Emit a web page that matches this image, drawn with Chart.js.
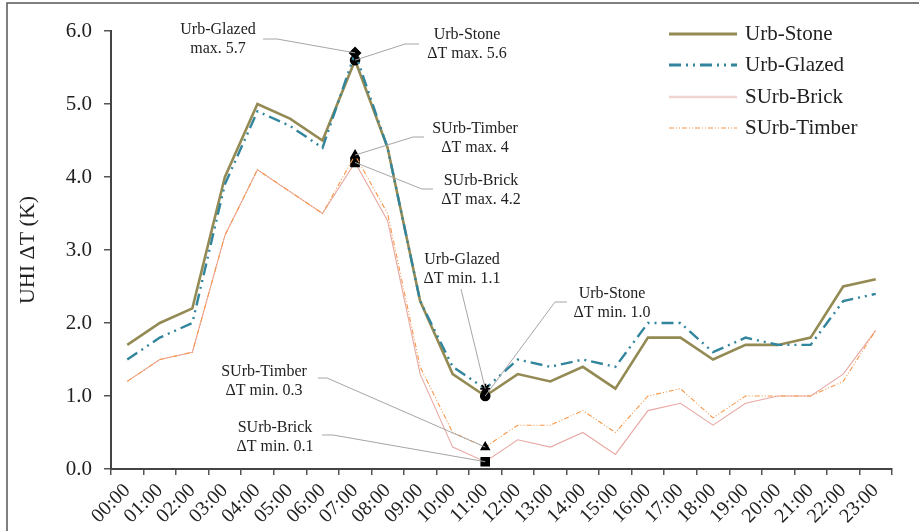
<!DOCTYPE html>
<html>
<head>
<meta charset="utf-8">
<script src="https://cdn.jsdelivr.net/npm/chart.js@4"></script>
<style>
  html, body { margin: 0; padding: 0; background: #fff; }
  #wrap { width: 919px; height: 531px; }
</style>
</head>
<body>
<div id="wrap"><canvas id="c" width="919" height="531"></canvas></div>
<script>
const hours = ["00:00", "01:00", "02:00", "03:00", "04:00", "05:00", "06:00", "07:00",
  "08:00", "09:00", "10:00", "11:00", "12:00", "13:00", "14:00", "15:00",
  "16:00", "17:00", "18:00", "19:00", "20:00", "21:00", "22:00", "23:00"];

const urbStone = [1.7, 2.0, 2.2, 4.0, 5.0, 4.8, 4.5, 5.6, 4.4, 2.3, 1.3, 1.0,
  1.3, 1.2, 1.4, 1.1, 1.8, 1.8, 1.5, 1.7, 1.7, 1.8, 2.5, 2.6];
const urbGlazed = [1.5, 1.8, 2.0, 3.9, 4.9, 4.7, 4.4, 5.7, 4.4, 2.3, 1.4, 1.1,
  1.5, 1.4, 1.5, 1.4, 2.0, 2.0, 1.6, 1.8, 1.7, 1.7, 2.3, 2.4];
const surbBrick = [1.2, 1.5, 1.6, 3.2, 4.1, 3.8, 3.5, 4.2, 3.4, 1.3, 0.3, 0.1,
  0.4, 0.3, 0.5, 0.2, 0.8, 0.9, 0.6, 0.9, 1.0, 1.0, 1.3, 1.9];
const surbTimber = [1.2, 1.5, 1.6, 3.2, 4.1, 3.8, 3.5, 4.3, 3.5, 1.4, 0.5, 0.3,
  0.6, 0.6, 0.8, 0.5, 1.0, 1.1, 0.7, 1.0, 1.0, 1.0, 1.2, 1.9];

const yTicks = [0, 1, 2, 3, 4, 5, 6];
const maxIdx = 7, minIdx = 11;

const serif = "'Liberation Serif', 'Times New Roman', serif";

// marker only at the max and min hours
const markRadius = (r) => hours.map((_, i) => (i === maxIdx || i === minIdx ? r : 0));

// dataset index, point index, text lines, label centre, leader start, elbow
const notes = [
  { ds: 1, i: maxIdx, text: ["Urb-Glazed", "max. 5.7"], cx: 218, cy: 30, from: [263, 39], elbow: [277, 39] },
  { ds: 0, i: maxIdx, text: ["Urb-Stone", "\u0394T max. 5.6"], cx: 467, cy: 35, from: [419, 44], elbow: [405, 44] },
  { ds: 3, i: maxIdx, text: ["SUrb-Timber", "\u0394T max. 4"], cx: 475, cy: 129, from: [424, 137], elbow: [413, 137] },
  { ds: 2, i: maxIdx, text: ["SUrb-Brick", "\u0394T max. 4.2"], cx: 481, cy: 181, from: [433, 189], elbow: [422, 189] },
  { ds: 1, i: minIdx, text: ["Urb-Glazed", "\u0394T min. 1.1"], cx: 462, cy: 260, from: [461, 289], elbow: [461, 289] },
  { ds: 0, i: minIdx, text: ["Urb-Stone", "\u0394T min. 1.0"], cx: 612, cy: 294, from: [567, 302], elbow: [555, 302] },
  { ds: 3, i: minIdx, text: ["SUrb-Timber", "\u0394T min. 0.3"], cx: 264, cy: 372, from: [318, 378], elbow: [327, 378] },
  { ds: 2, i: minIdx, text: ["SUrb-Brick", "\u0394T min. 0.1"], cx: 275, cy: 428, from: [322, 435], elbow: [333, 435] },
];

const frame = {
  id: "frame",
  beforeDraw(chart) {
    const ctx = chart.ctx;
    ctx.save();
    ctx.fillStyle = "#fff";
    ctx.fillRect(0, 0, chart.width, chart.height);
    ctx.strokeStyle = "#555";
    ctx.lineWidth = 1.5;
    ctx.strokeRect(7, 3, chart.width + 10, chart.height + 10);
    ctx.restore();
  },
};

const callouts = {
  id: "callouts",
  afterDatasetsDraw(chart) {
    const ctx = chart.ctx;
    ctx.save();
    ctx.strokeStyle = "#a6a6a6";
    ctx.lineWidth = 1;
    notes.forEach((n) => {
      const pt = chart.getDatasetMeta(n.ds).data[n.i];
      ctx.beginPath();
      ctx.moveTo(n.from[0], n.from[1]);
      ctx.lineTo(n.elbow[0], n.elbow[1]);
      ctx.lineTo(pt.x, pt.y);
      ctx.stroke();
    });
    ctx.fillStyle = "#222";
    ctx.font = "16px " + serif;
    ctx.textAlign = "center";
    ctx.textBaseline = "middle";
    notes.forEach((n) => {
      n.text.forEach((t, k) => ctx.fillText(t, n.cx, n.cy + k * 19));
    });
    ctx.restore();
  },
};

const legendBox = {
  id: "legendBox",
  afterDraw(chart) {
    const ctx = chart.ctx;
    const rows = [34, 65, 97, 128];
    ctx.save();
    chart.data.datasets.forEach((d, k) => {
      const y = rows[k];
      ctx.beginPath();
      ctx.strokeStyle = d.legendColor || d.borderColor;
      ctx.lineWidth = d.legendWidth;
      ctx.setLineDash(d.borderDash || []);
      ctx.moveTo(669, y);
      ctx.lineTo(737, y);
      ctx.stroke();
    });
    ctx.setLineDash([]);
    ctx.fillStyle = "#222";
    ctx.font = "21px " + serif;
    ctx.textAlign = "left";
    ctx.textBaseline = "middle";
    chart.data.datasets.forEach((d, k) => ctx.fillText(d.label, 745, rows[k]));
    ctx.restore();
  },
};

new Chart(document.getElementById("c"), {
  type: "line",
  data: {
    labels: hours,
    datasets: [
      {
        label: "Urb-Stone",
        data: urbStone,
        borderColor: "#948a54",
        borderWidth: 2.6,
        legendWidth: 3,
        order: 2,
        pointStyle: "circle",
        pointRadius: markRadius(4),
        pointBackgroundColor: "#000",
        pointBorderColor: "#000",
      },
      {
        label: "Urb-Glazed",
        data: urbGlazed,
        borderColor: "#31859c",
        borderWidth: 2.4,
        borderDash: [12, 5, 2, 5, 2, 5],
        legendWidth: 3,
        order: 1,
        pointStyle: hours.map((_, i) => (i === minIdx ? "star" : "rectRot")),
        pointRadius: markRadius(5),
        pointBackgroundColor: "#000",
        pointBorderColor: "#000",
        pointBorderWidth: 2,
      },
      {
        label: "SUrb-Brick",
        data: surbBrick,
        borderColor: "#e8a9a4",
        legendColor: "#f0d4d2",
        borderWidth: 1.1,
        legendWidth: 2.5,
        order: 4,
        pointStyle: "rect",
        pointRadius: markRadius(6),
        pointBackgroundColor: "#000",
        pointBorderColor: "#000",
      },
      {
        label: "SUrb-Timber",
        data: surbTimber,
        borderColor: "#f79646",
        borderWidth: 1.1,
        borderDash: [5, 2, 1, 2, 1, 2],
        legendWidth: 1.2,
        order: 3,
        pointStyle: "triangle",
        pointRadius: markRadius(5),
        pointBackgroundColor: "#000",
        pointBorderColor: "#000",
      },
    ],
  },
  options: {
    animation: false,
    responsive: false,
    devicePixelRatio: 1,
    layout: { padding: { left: 7, top: 31, right: 27, bottom: 0 } },
    elements: { line: { tension: 0, fill: false } },
    plugins: {
      legend: { display: false },
      tooltip: { enabled: false },
    },
    scales: {
      x: {
        type: "category",
        offset: true,
        grid: { offset: true, drawOnChartArea: false, tickLength: 6, color: "#555", lineWidth: 1.5 },
        border: { color: "#444", width: 2 },
        ticks: {
          autoSkip: false,
          maxRotation: 45,
          minRotation: 45,
          padding: 4,
          color: "#222",
          font: { family: serif, size: 20 },
        },
        afterFit: (s) => { s.height = 62; },
      },
      y: {
        min: 0,
        max: 6,
        afterBuildTicks: (s) => { s.ticks = yTicks.map((v) => ({ value: v })); },
        grid: { drawOnChartArea: false, tickLength: 7, color: "#555", lineWidth: 1.5 },
        border: { color: "#444", width: 2 },
        ticks: {
          padding: 12,
          color: "#222",
          font: { family: serif, size: 21 },
          callback: (v) => Number(v).toFixed(1),
        },
        title: {
          display: true,
          text: "UHI \u0394T (K)",
          color: "#222",
          font: { family: serif, size: 22 },
          padding: { top: 8, bottom: 0 },
        },
        afterFit: (s) => { s.width = 104; },
      },
    },
  },
  plugins: [frame, callouts, legendBox],
});
</script>
</body>
</html>
